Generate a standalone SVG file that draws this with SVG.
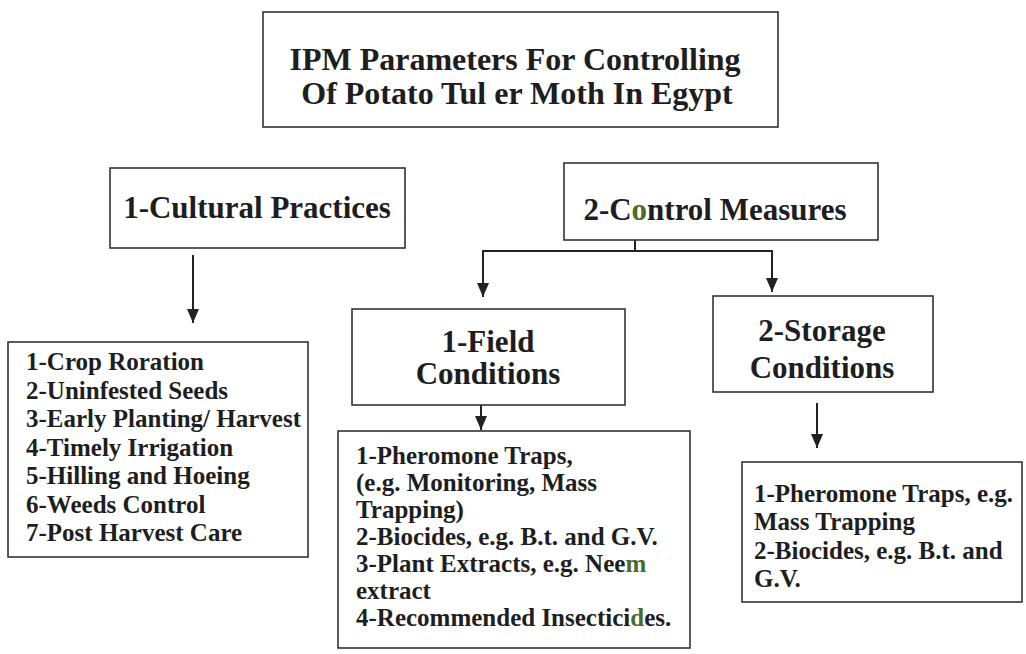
<svg xmlns="http://www.w3.org/2000/svg" width="1026" height="654" viewBox="0 0 1026 654">
<style>
.box{fill:#fff;stroke:#333;stroke-width:1.6}
.t{font-family:"Liberation Serif","Times New Roman",serif;font-weight:bold;fill:#1e1e1e}
.h{font-size:31px;text-anchor:middle}
.ti{font-size:32px;text-anchor:middle}
.l{font-size:25px}
.g{fill:#4a6b2a}
.c{fill:none;stroke:#222;stroke-width:2}
</style>
<defs>
<marker id="ad" markerUnits="userSpaceOnUse" markerWidth="14" markerHeight="12" refX="14" refY="6" orient="auto" viewBox="0 0 14 12">
<path d="M0,0 L14,6 L0,12 Z" fill="#222"/>
</marker>
</defs>
<rect width="1026" height="654" fill="#fff"/>
<g id="connectors">
<path class="c" d="M193,255 V323" marker-end="url(#ad)"/>
<path class="c" d="M635,240 V251"/>
<path class="c" d="M635,251 H483 V297" marker-end="url(#ad)"/>
<path class="c" d="M635,251 H772 V292" marker-end="url(#ad)"/>
<path class="c" d="M481,405 V430" marker-end="url(#ad)"/>
<path class="c" d="M817,403 V448" marker-end="url(#ad)"/>
</g>
<g id="title">
<rect class="box" x="263" y="12" width="515" height="115"/>
<text class="t ti" x="515" y="70">IPM Parameters For Controlling</text>
<text class="t ti" x="517" y="104">Of Potato Tul er  Moth In Egypt</text>
</g>
<g id="cultural">
<rect class="box" x="110" y="168" width="295" height="80"/>
<text class="t h" x="257" y="218">1-Cultural Practices</text>
</g>
<g id="control">
<rect class="box" x="564" y="163" width="314" height="77"/>
<text class="t h" x="715" y="220">2-C<tspan class="g">o</tspan>ntrol Measures</text>
</g>
<g id="field">
<rect class="box" x="352" y="309" width="273" height="96"/>
<text class="t h" x="488" y="352">1-Field</text>
<text class="t h" x="488" y="384">Conditions</text>
</g>
<g id="storage">
<rect class="box" x="713" y="296" width="220" height="96"/>
<text class="t h" x="822" y="341">2-Storage</text>
<text class="t h" x="822" y="378">Conditions</text>
</g>
<g id="cultural-list">
<rect class="box" x="8" y="342" width="300" height="215"/>
<text class="t l" x="26" y="370">1-Crop Roration</text>
<text class="t l" x="26" y="398.5">2-Uninfested Seeds</text>
<text class="t l" x="26" y="427">3-Early Planting/ Harvest</text>
<text class="t l" x="26" y="455.5">4-Timely Irrigation</text>
<text class="t l" x="26" y="484">5-Hilling and Hoeing</text>
<text class="t l" x="26" y="512.5">6-Weeds Control</text>
<text class="t l" x="26" y="541">7-Post Harvest Care</text>
</g>
<g id="field-list">
<rect class="box" x="338" y="431" width="352" height="217"/>
<text class="t l" x="356" y="464">1-Pheromone Traps,</text>
<text class="t l" x="356" y="491">(e.g. Monitoring,  Mass</text>
<text class="t l" x="356" y="518">Trapping)</text>
<text class="t l" x="356" y="545">2-Biocides, e.g. B.t. and G.V.</text>
<text class="t l" x="356" y="572">3-Plant Extracts, e.g. Nee<tspan class="g">m</tspan></text>
<text class="t l" x="356" y="599">extract</text>
<text class="t l" x="356" y="626">4-Recommended Insectici<tspan class="g">d</tspan>es.</text>
</g>
<g id="storage-list">
<rect class="box" x="742" y="462" width="280" height="140"/>
<text class="t l" x="754" y="502">1-Pheromone Traps, e.g.</text>
<text class="t l" x="754" y="530">Mass Trapping</text>
<text class="t l" x="754" y="559">2-Biocides, e.g. B.t. and</text>
<text class="t l" x="754" y="587">G.V.</text>
</g>
</svg>
